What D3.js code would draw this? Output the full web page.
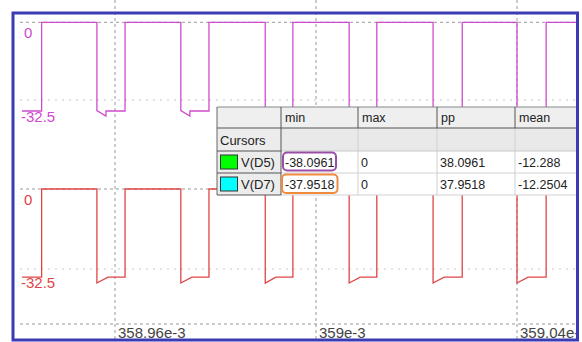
<!DOCTYPE html>
<html><head><meta charset="utf-8">
<script src="https://cdn.jsdelivr.net/npm/d3@7"></script>
<style>html,body{margin:0;padding:0;background:#fff;}svg{display:block;}</style>
</head><body>
<svg id="c" width="582" height="342"></svg>
<script>
// ---- data ----
const xTicks = [358.96, 359.00, 359.04];
const xTickLabels = ["358.96e-3", "359e-3", "359.04e-3"];
const yTicks = [0, -32.5];
const yTickLabels = ["0", "-32.5"];

const d5Time = [358.9415, 358.9454, 358.9454,
  358.9564, 358.9564, 358.9582, 358.9582, 358.9620, 358.9620,
  358.9731, 358.9731, 358.9749, 358.9749, 358.9787, 358.9787,
  358.9899, 358.9899, 358.9917, 358.9917, 358.9954, 358.9954,
  359.0066, 359.0066, 359.0084, 359.0084, 359.0121, 359.0121,
  359.0233, 359.0233, 359.0251, 359.0251, 359.0291, 359.0291,
  359.0400, 359.0400, 359.0418, 359.0418, 359.0458, 359.0458,
  359.0530];
const d5Value = [-37.1, -37.1, 0,
  0, -36.9, -39.2, -37.1, -37.1, 0,
  0, -36.9, -39.2, -37.1, -37.1, 0,
  0, -36.9, -39.2, -37.1, -37.1, 0,
  0, -36.9, -39.2, -37.1, -37.1, 0,
  0, -36.9, -39.2, -37.1, -37.1, 0,
  0, -36.9, -39.2, -37.1, -37.1, 0,
  0];

const d7Time = [358.9415, 358.9454, 358.9454,
  358.9564, 358.9564, 358.9586, 358.9620, 358.9620,
  358.9731, 358.9731, 358.9753, 358.9787, 358.9787,
  358.9899, 358.9899, 358.9920, 358.9954, 358.9954,
  359.0066, 359.0066, 359.0088, 359.0121, 359.0121,
  359.0233, 359.0233, 359.0255, 359.0291, 359.0291,
  359.0400, 359.0400, 359.0422, 359.0458, 359.0458,
  359.0530];
const d7Value = [-35.8, -35.8, 0,
  0, -38.2, -35.8, -35.8, 0,
  0, -38.2, -35.8, -35.8, 0,
  0, -38.2, -35.8, -35.8, 0,
  0, -38.2, -35.8, -35.8, 0,
  0, -38.2, -35.8, -35.8, 0,
  0, -38.2, -35.8, -35.8, 0,
  0];

const tableHeader = ["", "min", "max", "pp", "mean"];
const rowNames = ["Cursors", "V(D5)", "V(D7)"];
const rowSwatch = [null, "#00ff00", "#00ffff"];
const minVals = ["", "-38.0961", "-37.9518"];
const maxVals = ["", "0", "0"];
const ppVals = ["", "38.0961", "37.9518"];
const meanVals = ["", "-12.288", "-12.2504"];

// ---- drawing ----
const svg = d3.select("#c");
const FL = 13, FT = 13, FR = 577.5, FB = 340;

svg.append("defs").append("clipPath").attr("id","clip")
  .append("rect").attr("x",FL).attr("y",FT).attr("width",FR-FL).attr("height",FB-FT);

const x = d3.scaleLinear().domain([358.96, 359.04]).range([115, 517]);
const yTop = d3.scaleLinear().domain([0, -32.5]).range([22.3, 100]);
const yBot = d3.scaleLinear().domain([0, -32.5]).range([189, 269]);

// vertical grid (extends above frame)
svg.append("g").selectAll("line").data(xTicks).join("line")
  .attr("x1", d => x(d)).attr("x2", d => x(d))
  .attr("y1", 0).attr("y2", FB)
  .attr("stroke", "#9a9a9a").attr("stroke-width", 1)
  .attr("stroke-dasharray", "3,3");

const g = svg.append("g").attr("clip-path","url(#clip)");

// horizontal grids
function hgrid(scale) {
  g.append("g").selectAll("line").data(yTicks).join("line")
    .attr("x1", 20).attr("x2", FR)
    .attr("y1", d => scale(d)).attr("y2", d => scale(d))
    .attr("stroke", (d,i) => i === 0 ? "#9a9a9a" : "#c8c8c8")
    .attr("stroke-width", 1)
    .attr("stroke-dasharray", (d,i) => i === 0 ? "3,3" : "2,5");
}
hgrid(yTop); hgrid(yBot);
g.append("line").attr("x1",20).attr("x2",FR)
  .attr("y1",324).attr("y2",324)
  .attr("stroke","#9a9a9a").attr("stroke-dasharray","3,3");

// traces
const lineTop = d3.line().x(i => x(d5Time[i])).y(i => yTop(d5Value[i])).curve(d3.curveLinear);
const lineBot = d3.line().x(i => x(d7Time[i])).y(i => yBot(d7Value[i])).curve(d3.curveLinear);
g.append("path").attr("d", lineTop(d3.range(d5Time.length)))
  .attr("fill","none").attr("stroke","#d04ad0").attr("stroke-width",1.3);
g.append("path").attr("d", lineBot(d3.range(d7Time.length)))
  .attr("fill","none").attr("stroke","#e04545").attr("stroke-width",1.3);

// y labels
function ylabels(scale, color, offs) {
  g.append("g").selectAll("text").data(yTicks).join("text")
    .attr("x", (d,i) => i === 0 ? 24 : 21)
    .attr("y", (d,i) => scale(d) + offs[i])
    .attr("fill", color)
    .attr("font-family", "Liberation Sans, Arial, sans-serif")
    .attr("font-size", 15)
    .text((d,i) => yTickLabels[i]);
}
ylabels(yTop, "#d04ad0", [16, 22]);
ylabels(yBot, "#e04545", [16, 19]);

// x labels
g.append("g").selectAll("text").data(xTicks).join("text")
  .attr("x", d => x(d) + 3).attr("y", 338)
  .attr("fill", "#444")
  .attr("font-family", "Liberation Sans, Arial, sans-serif")
  .attr("font-size", 15)
  .text((d,i) => xTickLabels[i]);

// table
const colX = [217, 281, 358, 437, 515, 577.5];
const rowY = [107, 128, 151, 173, 195];
const tg = g.append("g");
const font = "Liberation Sans, Arial, sans-serif";
// backgrounds
tg.append("rect").attr("x",colX[0]).attr("y",rowY[0]).attr("width",colX[5]-colX[0]).attr("height",rowY[4]-rowY[0]).attr("fill","#fff");
tg.append("rect").attr("x",colX[0]).attr("y",rowY[0]).attr("width",colX[5]-colX[0]).attr("height",rowY[2]-rowY[0]).attr("fill","#e9e9e9");
tg.append("rect").attr("x",colX[0]).attr("y",rowY[0]).attr("width",colX[5]-colX[0]).attr("height",rowY[1]-rowY[0]).attr("fill","#efefef");
tg.append("rect").attr("x",colX[0]).attr("y",rowY[1]).attr("width",colX[1]-colX[0]).attr("height",rowY[4]-rowY[1]).attr("fill","#ececec");
// light data grid lines
[rowY[3], rowY[4]].forEach(yy => tg.append("line").attr("x1",colX[1]).attr("x2",colX[5]).attr("y1",yy).attr("y2",yy).attr("stroke","#d0d0d0"));
[colX[2], colX[3], colX[4]].forEach(xx => tg.append("line").attr("x1",xx).attr("x2",xx).attr("y1",rowY[1]).attr("y2",rowY[4]).attr("stroke","#d0d0d0"));
// dark header lines
tg.append("line").attr("x1",colX[0]).attr("x2",colX[5]).attr("y1",rowY[1]).attr("y2",rowY[1]).attr("stroke","#555");
tg.append("line").attr("x1",colX[0]).attr("x2",colX[5]).attr("y1",rowY[0]).attr("y2",rowY[0]).attr("stroke","#888");
tg.append("line").attr("x1",colX[1]).attr("x2",colX[5]).attr("y1",rowY[2]).attr("y2",rowY[2]).attr("stroke","#c8c8c8");
[colX[1], colX[2], colX[3], colX[4]].forEach(xx => tg.append("line").attr("x1",xx).attr("x2",xx).attr("y1",rowY[0]).attr("y2",rowY[1]).attr("stroke","#555"));
// first column dark borders
tg.append("line").attr("x1",colX[0]).attr("x2",colX[0]).attr("y1",rowY[0]).attr("y2",rowY[4]).attr("stroke","#666");
tg.append("line").attr("x1",colX[1]).attr("x2",colX[1]).attr("y1",rowY[1]).attr("y2",rowY[4]).attr("stroke","#555");
[rowY[2], rowY[3], rowY[4]].forEach(yy => tg.append("line").attr("x1",colX[0]).attr("x2",colX[1]).attr("y1",yy).attr("y2",yy).attr("stroke","#555"));

// header text
tg.selectAll("text.h").data(tableHeader).join("text").attr("class","h")
  .attr("x",(d,i) => colX[i] + 4).attr("y", rowY[0] + 15)
  .attr("font-family", font).attr("font-size", 12.5).attr("fill","#222")
  .text(d => d);
// row names & swatches
rowNames.forEach((nm, r) => {
  const yc = (rowY[r+1] + rowY[r+2]) / 2;
  if (rowSwatch[r]) {
    tg.append("rect").attr("x", 220.5).attr("y", yc - 7).attr("width", 17).attr("height", 14)
      .attr("fill", rowSwatch[r]).attr("stroke","#333").attr("stroke-width",1);
    tg.append("text").attr("x", 241).attr("y", yc + 5).attr("font-family", font)
      .attr("font-size", 13).attr("fill","#222").text(nm);
  } else {
    tg.append("text").attr("x", 220).attr("y", yc + 5).attr("font-family", font)
      .attr("font-size", 13).attr("fill","#222").text(nm);
  }
  [minVals, maxVals, ppVals, meanVals].forEach((arr, c) => {
    tg.append("text").attr("x", colX[c+1] + (c === 0 ? 4 : 3)).attr("y", yc + 5)
      .attr("font-family", font).attr("font-size", 12.5).attr("fill","#222")
      .text(arr[r]);
  });
});
// highlights
tg.append("rect").attr("x",283).attr("y",152.5).attr("width",53).attr("height",18).attr("rx",4)
  .attr("fill","none").attr("stroke","#9a4ea8").attr("stroke-width",2);
tg.append("rect").attr("x",282).attr("y",174.5).attr("width",55.5).attr("height",18.5).attr("rx",4)
  .attr("fill","none").attr("stroke","#f08a3c").attr("stroke-width",2);

// frame
svg.append("rect").attr("x",FL).attr("y",FT).attr("width",FR-FL).attr("height",FB-FT)
  .attr("fill","none").attr("stroke","#3b3bb5").attr("stroke-width",3);
</script>
</body></html>
